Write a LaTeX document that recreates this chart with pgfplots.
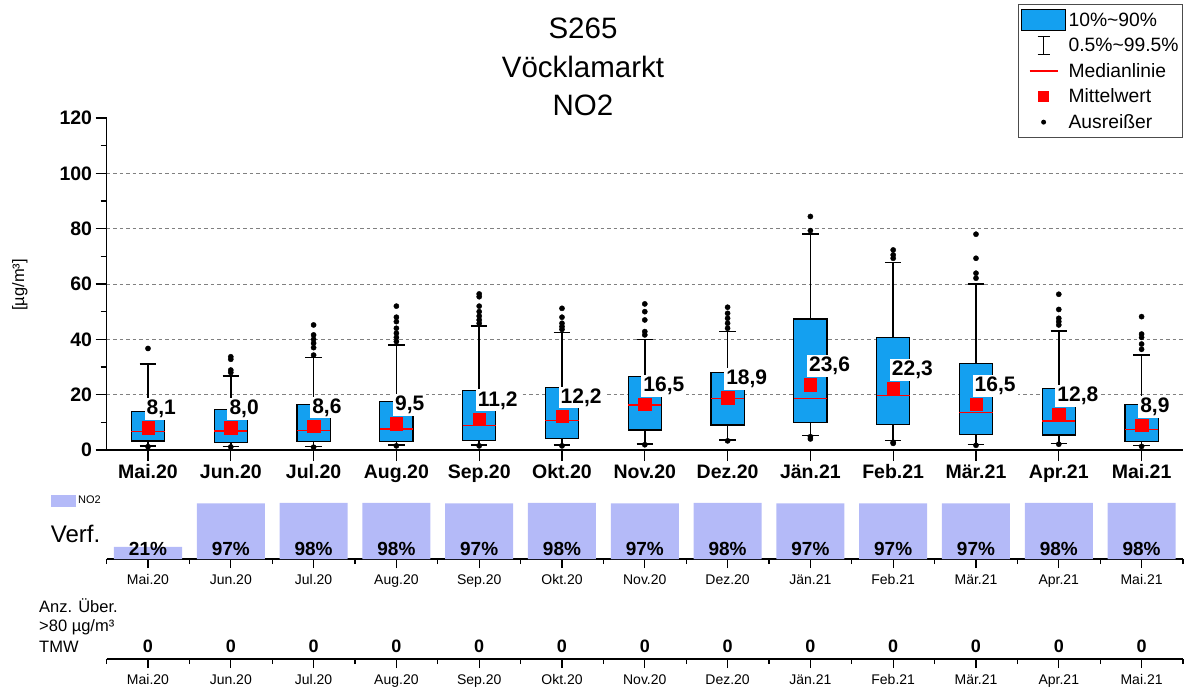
\documentclass[border=0pt]{standalone}
\usepackage{pgfplots}
\pgfplotsset{compat=1.18}
\usepgfplotslibrary{statistics}
\usepackage{fontspec}
\setmainfont{Liberation Sans}
\definecolor{boxblue}{RGB}{20,160,240}
\definecolor{barlav}{RGB}{180,186,248}
\newcommand{\cats}{Mai.20,Jun.20,Jul.20,Aug.20,Sep.20,Okt.20,Nov.20,Dez.20,Jän.21,Feb.21,Mär.21,Apr.21,Mai.21}
\begin{document}
\begin{tikzpicture}
\useasboundingbox (0pt,0pt) rectangle (1186pt,-687pt);
% ---------------- main panel ----------------
\begin{axis}[
  at={(106.6pt,-450pt)}, anchor=south west,
  scale only axis, width=1076.4pt, height=332pt,
  xmin=-0.5, xmax=12.5, ymin=0, ymax=120,
  axis x line*=bottom, axis y line*=left,
  axis line style={line width=1.3pt, -},
  xtick={0,...,12}, xticklabels/.expanded={\cats},
  ytick={0,20,...,120}, minor ytick={10,30,...,110},
  tick align=outside, major tick length=11pt, minor tick length=6pt,
  tick style={black, line width=1.2pt},
  every tick label/.append style={font=\fontsize{19.5}{22}\selectfont\bfseries},
  /pgf/number format/assume math mode=true,
  extra y ticks={20,40,60,80,100}, extra y tick labels={},
  extra y tick style={grid=major, tick style={draw=none}},
  grid style={gray, dash pattern=on 3.5pt off 3pt, line width=1pt},
  boxplot/draw direction=y,
  boxplot/box extend=0.4,
  boxplot/whisker extend=0.2,
  boxplot/every box/.style={draw=black, line width=1.3pt, fill=boxblue},
  boxplot/every whisker/.style={black, line width=1.6pt},
  boxplot/every median/.style={red, line width=1.3pt},
  title={S265\\Vöcklamarkt\\NO2},
  title style={at={(axis description cs:0.4426,1)}, anchor=north, yshift=94pt, inner sep=0pt, align=center, font=\fontsize{29.5}{38.5}\selectfont},
  ylabel={[µg/m³]},
  ylabel style={at={(axis description cs:-0.0805,0.497)}, anchor=center, font=\fontsize{16.5}{18}\selectfont},
  legend style={at={(axis description cs:1,1)}, anchor=north east, yshift=114pt,
    draw=black!70, line width=0.8pt, inner xsep=2pt, inner ysep=3pt,
    row sep=0pt, font=\fontsize{19.3}{21}\selectfont,
    /tikz/every even column/.append style={column sep=2pt}},
  legend cell align=left,
]
\addplot[boxplot prepared={lower whisker=1.4, lower quartile=3.3, median=6.6, upper quartile=13.8, upper whisker=31.0, draw position=0}, forget plot] coordinates {};
\addplot[boxplot prepared={lower whisker=1.3, lower quartile=2.6, median=6.9, upper quartile=14.7, upper whisker=26.7, draw position=1}, forget plot] coordinates {};
\addplot[boxplot prepared={lower whisker=1.2, lower quartile=3.0, median=7.0, upper quartile=16.5, upper whisker=33.4, draw position=2}, forget plot] coordinates {};
\addplot[boxplot prepared={lower whisker=1.8, lower quartile=3.0, median=7.6, upper quartile=17.5, upper whisker=37.9, draw position=3}, forget plot] coordinates {};
\addplot[boxplot prepared={lower whisker=1.8, lower quartile=3.4, median=8.9, upper quartile=21.4, upper whisker=44.8, draw position=4}, forget plot] coordinates {};
\addplot[boxplot prepared={lower whisker=1.8, lower quartile=4.2, median=10.6, upper quartile=22.7, upper whisker=42.4, draw position=5}, forget plot] coordinates {};
\addplot[boxplot prepared={lower whisker=2.2, lower quartile=7.2, median=16.3, upper quartile=26.5, upper whisker=40.0, draw position=6}, forget plot] coordinates {};
\addplot[boxplot prepared={lower whisker=3.6, lower quartile=9.0, median=18.7, upper quartile=28.1, upper whisker=42.8, draw position=7}, forget plot] coordinates {};
\addplot[boxplot prepared={lower whisker=5.2, lower quartile=9.9, median=18.7, upper quartile=47.3, upper whisker=78.0, draw position=8}, forget plot] coordinates {};
\addplot[boxplot prepared={lower whisker=3.4, lower quartile=9.2, median=19.6, upper quartile=40.7, upper whisker=67.8, draw position=9}, forget plot] coordinates {};
\addplot[boxplot prepared={lower whisker=2.0, lower quartile=5.7, median=13.5, upper quartile=31.3, upper whisker=59.9, draw position=10}, forget plot] coordinates {};
\addplot[boxplot prepared={lower whisker=2.4, lower quartile=5.4, median=10.5, upper quartile=22.3, upper whisker=43.0, draw position=11}, forget plot] coordinates {};
\addplot[boxplot prepared={lower whisker=1.6, lower quartile=3.0, median=7.5, upper quartile=16.5, upper whisker=34.3, draw position=12}, forget plot] coordinates {};
% outliers
\addplot[only marks, mark=*, mark size=2.6pt, black, forget plot] coordinates {
 (0,36.7) (0,1.2)
 (1,33.7) (1,32.8) (1,28.9) (1,28.0) (1,1.1)
 (2,45.2) (2,41.6) (2,40.0) (2,38.6) (2,37.0) (2,34.3) (2,1.0)
 (3,52.0) (3,48.0) (3,46.4) (3,44.0) (3,42.2) (3,40.7) (3,39.2) (3,1.5)
 (4,56.4) (4,55.4) (4,52.0) (4,50.0) (4,48.4) (4,47.0) (4,45.8) (4,1.5)
 (5,51.2) (5,48.0) (5,45.8) (5,44.6) (5,43.6) (5,1.5)
 (6,52.8) (6,50.0) (6,47.0) (6,42.8) (6,41.6) (6,1.9)
 (7,51.6) (7,49.4) (7,47.6) (7,45.8) (7,44.0) (7,3.3)
 (8,84.4) (8,79.3) (8,4.8) (8,4.0)
 (9,72.3) (9,70.5) (9,69.3) (9,2.8) (9,2.4)
 (10,78.0) (10,69.3) (10,63.9) (10,62.1) (10,1.7)
 (11,56.3) (11,50.8) (11,47.6) (11,46.4) (11,45.2) (11,2.1)
 (12,48.2) (12,41.9) (12,40.7) (12,38.3) (12,36.4) (12,1.3)
};
% means with labels
\addplot[only marks, mark=square*, mark size=6.2pt, red, forget plot,
  nodes near coords, point meta=explicit symbolic,
  nodes near coords style={anchor=base west, xshift=-3.5pt, yshift=13pt, fill=white, inner sep=2pt, text=black, font=\fontsize{21}{23}\selectfont\bfseries}]
 coordinates {
 (0,8.1)[8{,}1] (1,8.0)[8{,}0] (2,8.6)[8{,}6] (3,9.5)[9{,}5] (4,11.2)[11{,}2]
 (5,12.2)[12{,}2] (6,16.5)[16{,}5] (7,18.9)[18{,}9] (8,23.6)[23{,}6] (9,22.3)[22{,}3]
 (10,16.5)[16{,}5] (11,12.8)[12{,}8] (12,8.9)[8{,}9]
};
% legend
\addlegendimage{legend image code/.code={\path[draw=none,fill=none] (0pt,-12.75pt) rectangle (46pt,12.75pt); \draw[draw=black, fill=boxblue, line width=1.2pt] (1pt,-10.5pt) rectangle (45pt,10.5pt);}}
\addlegendentry{10\%\textasciitilde 90\%}
\addlegendimage{legend image code/.code={\path[draw=none,fill=none] (0pt,-12.75pt) rectangle (46pt,12.75pt); \draw[draw=black, line width=1.2pt] (23pt,-9pt) -- (23pt,9pt) (17pt,9pt) -- (29pt,9pt) (17pt,-9pt) -- (29pt,-9pt);}}
\addlegendentry{0.5\%\textasciitilde 99.5\%}
\addlegendimage{legend image code/.code={\path[draw=none,fill=none] (0pt,-12.75pt) rectangle (46pt,12.75pt); \path[draw=red, line width=1.3pt] (9pt,0pt) -- (37pt,0pt);}}
\addlegendentry{Medianlinie}
\addlegendimage{legend image code/.code={\path[draw=none,fill=none] (0pt,-12.75pt) rectangle (46pt,12.75pt); \path[draw=none, fill=red] (17.5pt,-5.5pt) rectangle (28.5pt,5.5pt);}}
\addlegendentry{Mittelwert}
\addlegendimage{legend image code/.code={\path[draw=none,fill=none] (0pt,-12.75pt) rectangle (46pt,12.75pt); \path[draw=none, fill=black] (23pt,0pt) circle (2.5pt);}}
\addlegendentry{Ausreißer}
\end{axis}
% ---------------- availability panel ----------------
\begin{axis}[
  at={(106.6pt,-559pt)}, anchor=south west,
  scale only axis, width=1076.4pt, height=57.4pt,
  xmin=-0.5, xmax=12.5, ymin=0, ymax=100,
  clip mode=individual,
  axis x line*=bottom, axis y line=none,
  axis line style={line width=1.2pt, -},
  xtick={0,...,12}, xticklabels/.expanded={\cats},
  minor xtick={-0.5,0.5,...,12.5},
  tick align=outside, major tick length=9pt, minor tick length=5pt,
  tick style={black, line width=1.1pt},
  xticklabel style={font=\fontsize{14}{16}\selectfont, yshift=-3pt},
  legend style={at={(axis description cs:-0.0517,1)}, anchor=north west, yshift=7.6pt,
    draw=none, fill=none, inner sep=0pt, font=\fontsize{11}{12}\selectfont,
    /tikz/every even column/.append style={column sep=2pt}},
]
\addplot[ybar, bar width=68pt, fill=barlav, draw=none, forget plot] coordinates {
 (0,21) (1,97) (2,98) (3,98) (4,97) (5,98) (6,97) (7,98) (8,97) (9,97) (10,97) (11,98) (12,98)
};
\addplot[draw=none, mark=none, forget plot, nodes near coords, point meta=explicit symbolic,
  nodes near coords style={anchor=base, yshift=4pt, inner sep=0pt, font=\fontsize{19}{21}\selectfont\bfseries}]
 coordinates {
 (0,0)[21\%] (1,0)[97\%] (2,0)[98\%] (3,0)[98\%] (4,0)[97\%] (5,0)[98\%] (6,0)[97\%]
 (7,0)[98\%] (8,0)[97\%] (9,0)[97\%] (10,0)[97\%] (11,0)[98\%] (12,0)[98\%]
};
\addlegendimage{legend image code/.code={\path[draw=none, fill=barlav] (0pt,-6pt) rectangle (25pt,6pt);}}
\addlegendentry{NO2}
\node[anchor=base west, inner sep=0pt, font=\fontsize{24}{26}\selectfont] at (axis description cs:-0.0519,0.284) {Verf.};
\end{axis}
% ---------------- exceedance panel ----------------
\begin{axis}[
  at={(106.6pt,-659pt)}, anchor=south west,
  scale only axis, width=1076.4pt, height=30pt,
  xmin=-0.5, xmax=12.5, ymin=0, ymax=1,
  clip mode=individual,
  axis x line*=bottom, axis y line=none,
  axis line style={line width=1.2pt, -},
  xtick={0,...,12}, xticklabels/.expanded={\cats},
  minor xtick={-0.5,0.5,...,12.5},
  tick align=outside, major tick length=9pt, minor tick length=5pt,
  tick style={black, line width=1.1pt},
  xticklabel style={font=\fontsize{14}{16}\selectfont, yshift=-3pt},
]
\addplot[draw=none, mark=none, forget plot, nodes near coords, point meta=explicit symbolic,
  nodes near coords style={anchor=base, yshift=7pt, inner sep=0pt, font=\fontsize{18}{20}\selectfont\bfseries}]
 coordinates {
 (0,0)[0] (1,0)[0] (2,0)[0] (3,0)[0] (4,0)[0] (5,0)[0] (6,0)[0]
 (7,0)[0] (8,0)[0] (9,0)[0] (10,0)[0] (11,0)[0] (12,0)[0]
};
\node[anchor=base west, inner sep=0pt, font=\fontsize{16.5}{18}\selectfont] at (axis description cs:-0.0628,1.543) {Anz. Über.};
\node[anchor=base west, inner sep=0pt, font=\fontsize{16.5}{18}\selectfont] at (axis description cs:-0.0628,0.91) {>80 µg/m³};
\node[anchor=base west, inner sep=0pt, font=\fontsize{16.5}{18}\selectfont] at (axis description cs:-0.0628,0.21) {TMW};
\end{axis}
\end{tikzpicture}
\end{document}
